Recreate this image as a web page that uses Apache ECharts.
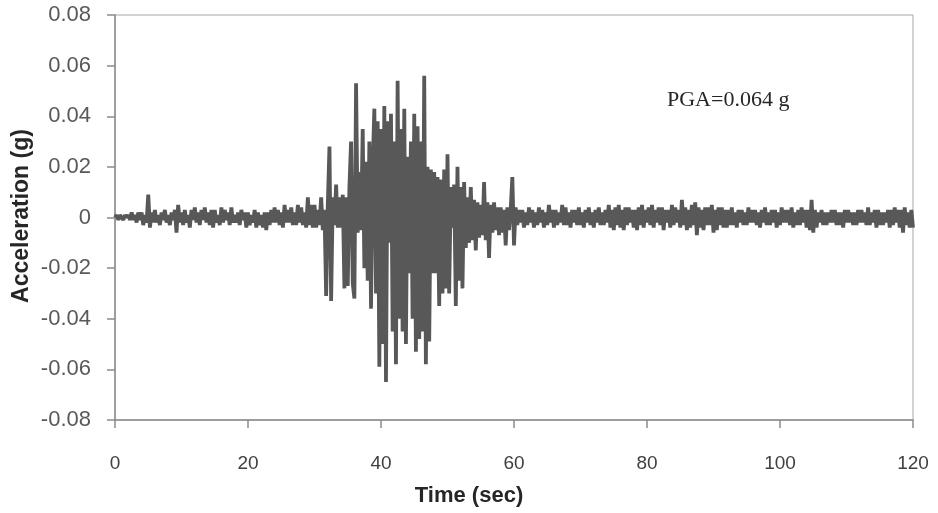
<!DOCTYPE html>
<html>
<head>
<meta charset="utf-8">
<script src="https://cdn.jsdelivr.net/npm/echarts@6/dist/echarts.min.js"></script>
<style>
  html, body { margin: 0; padding: 0; background: #fff; }
  #accel-chart { width: 938px; height: 513px; }
</style>
</head>
<body>
<div id="accel-chart"></div>
<script>
// sampling step of the record (sec)
const dt = 0.25;
// axis ranges
const xMin = 0, xMax = 120, xStep = 20;
const yMin = -0.08, yMax = 0.08, yStep = 0.02;
// acceleration, in milli-g, one row = 10 s (4 samples per second)
const accel_mg = [
  // 0 - 10 s
  0,1,-1,1, 0,-1,1,0, 1,-1,2,-1, 1,-2,2,-1, 2,-3,1,-2, 9,-4,2,-2, 3,-2,1,-3, 2,-1,3,-2, 1,-3,2,-1, 3,-6,5,-2,
  // 10 - 20 s
  2,-3,3,-2, 1,-4,3,-1, 4,-2,2,-3, 3,-1,4,-2, 2,-3,3,-4, 3,-2,1,-3, 4,-2,3,-1, 2,-3,4,-2, 1,-2,2,-3, 3,-1,2,-4,
  // 20 - 30 s
  2,-3,1,-2, 3,-4,2,-3, 1,-4,2,-5, 2,-3,3,-2, 4,-2,3,-3, 2,-4,5,-2, 3,-2,4,-3, 2,-3,5,-2, 4,-3,2,-4, 8,-3,5,-4,
  // 30 - 40 s
  5,-4,3,-3, 8,-5,3,-31, 5,28,-33,8, -3,13,-4,8, -4,9,-28,8, -27,12,30,-26, -32,53,-6,18, -5,35,-20,22, -25,30,-36,20, 43,-30,38,-59,
  // 40 - 50 s
  35,-50,44,-65, 38,-10,41,-45, 30,-58,54,-40, 35,-45,43,-50, 24,-22,30,-40, 41,-53,36,-48, 30,-45,56,-58, 20,-49,19,-22, 18,-22,16,-35, 15,-30,19,-28,
  // 50 - 60 s
  25,-30,12,-4, 13,-35,20,-25, 12,-28,14,-12, 8,-10,12,-9, 7,-13,6,-8, 5,-7,14,-9, 6,-16,5,-6, 6,-5,4,-7, 4,-6,3,-11, 4,-5,3,16,
  // 60 - 70 s
  -11,4,-3,3, -2,3,-4,2, -3,4,-2,3, -4,2,-3,4, -2,3,-4,2, -3,5,-2,3, -4,3,-3,2, -2,5,-3,4, -3,2,-4,3, -2,3,-3,4,
  // 70 - 80 s
  -3,2,-4,3, -2,4,-3,2, -4,3,-2,4, -3,2,-3,3, -2,5,-4,3, -5,4,-3,5, -4,3,-5,4, -3,4,-2,3, -4,3,-5,4, -3,5,-4,3,
  // 80 - 90 s
  -2,4,-3,5, -4,3,-2,4, -3,4,-5,3, -2,3,-4,5, -3,4,-2,3, -4,7,-3,4, -5,3,-4,5, -3,6,-7,4, -4,3,-5,4, -3,4,-3,5,
  // 90 - 100 s
  -6,3,-5,4, -3,4,-4,3, -4,3,-3,4, -3,2,-4,3, -2,3,-3,2, -3,4,-2,3, -2,3,-3,2, -4,3,-2,4, -3,2,-3,3, -2,3,-4,2,
  // 100 - 110 s
  -3,4,-2,3, -2,3,-3,4, -4,2,-3,3, -3,4,-2,3, -4,3,-5,7, -6,3,-4,2, -2,3,-3,2, -3,2,-2,3, -2,3,-3,2, -3,2,-4,3,
  // 110 - 120 s
  -2,3,-2,2, -3,2,-3,3, -2,3,-2,2, -3,4,-3,2, -2,3,-4,3, -3,2,-3,2, -2,3,-4,3, -3,4,-2,3, -4,3,-6,4, -3,2,-4,3,
  // 120 s
  -4
];
const pgaText = 'PGA=0.064 g';

// [time, g] pairs for the line
let seriesData = accel_mg.map((v, i) => [i * dt, v / 1000]);

let chart = echarts.init(document.getElementById('accel-chart'));
chart.setOption({
    animation: false,
    backgroundColor: '#fff',
    grid: {
        left: 115,
        right: 25,
        top: 15,
        bottom: 93,
        show: true,
        borderColor: '#a6a6a6',
        borderWidth: 1
    },
    xAxis: {
        type: 'value',
        min: xMin,
        max: xMax,
        interval: xStep,
        axisLine: {show: true, onZero: false, lineStyle: {color: '#8c8c8c', width: 1.5}},
        axisTick: {show: true, inside: false, length: 8, lineStyle: {color: '#8c8c8c', width: 1.5}},
        axisLabel: {
            margin: 34,
            fontSize: 19,
            fontFamily: 'Liberation Sans, Arial, sans-serif',
            color: '#404040'
        },
        splitLine: {show: false}
    },
    yAxis: {
        type: 'value',
        min: yMin,
        max: yMax,
        interval: yStep,
        axisLine: {show: true, lineStyle: {color: '#8c8c8c', width: 1.5}},
        axisTick: {show: true, inside: false, length: 8, lineStyle: {color: '#8c8c8c', width: 1.5}},
        axisLabel: {
            margin: 24,
            fontSize: 22,
            fontFamily: 'Liberation Sans, Arial, sans-serif',
            color: '#595959',
            formatter: function (v) {
                return Math.abs(v) < 1e-9 ? '0' : v.toFixed(2);
            }
        },
        splitLine: {show: false}
    },
    graphic: [
        {
            type: 'text',
            x: 22,
            y: 216,
            rotation: Math.PI / 2,
            style: {
                text: 'Acceleration (g)',
                fontSize: 23,
                fontWeight: 'bold',
                fontFamily: 'Liberation Sans, Arial, sans-serif',
                fill: '#262626',
                align: 'center',
                verticalAlign: 'middle'
            }
        },
        {
            type: 'text',
            x: 469,
            y: 496,
            style: {
                text: 'Time (sec)',
                fontSize: 22,
                fontWeight: 'bold',
                fontFamily: 'Liberation Sans, Arial, sans-serif',
                fill: '#262626',
                align: 'center',
                verticalAlign: 'middle'
            }
        },
        {
            type: 'text',
            x: 667,
            y: 100,
            style: {
                text: pgaText,
                fontSize: 22,
                fontFamily: 'Liberation Serif, Times New Roman, serif',
                fill: '#262626',
                align: 'left',
                verticalAlign: 'middle'
            }
        }
    ],
    series: [
        {
            name: 'Acceleration',
            type: 'line',
            data: seriesData,
            showSymbol: false,
            symbol: 'none',
            sampling: null,
            lineStyle: {color: '#585858', width: 3.8},
            itemStyle: {color: '#585858'}
        }
    ]
});
</script>
</body>
</html>
